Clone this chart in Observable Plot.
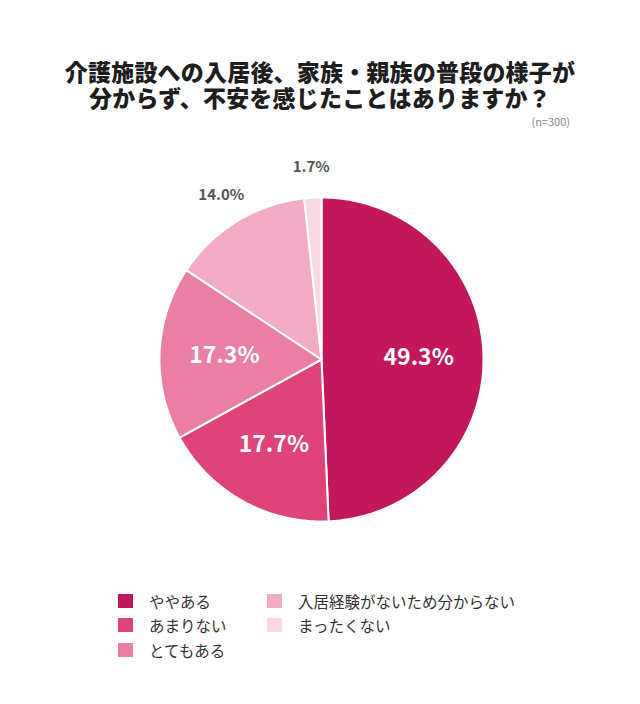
<!DOCTYPE html>
<html><head><meta charset="utf-8">
<script src="https://cdn.jsdelivr.net/npm/d3@7"></script>
<script src="https://cdn.jsdelivr.net/npm/@observablehq/plot@0.6"></script>
<style>
html,body{margin:0;padding:0;background:#fff;}
body{width:640px;height:704px;position:relative;overflow:hidden;font-family:"Noto Sans CJK JP","Noto Sans",sans-serif;color:#222;}
#title{position:absolute;left:0;width:640px;top:58px;text-align:center;font-size:23px;font-weight:900;line-height:26px;letter-spacing:0.2px;color:#1e1e1e;}
#n{position:absolute;right:70px;top:116px;font-size:11px;line-height:11px;color:#888;}
#chart{position:absolute;left:0;top:140px;}
#legend{position:absolute;left:0;top:0;width:640px;height:704px;}
.li{position:absolute;display:flex;align-items:center;font-size:15.5px;color:#333;height:20px;white-space:nowrap;}
.sw{width:15px;height:14px;margin-right:16px;flex-shrink:0;display:inline-block;}
</style></head>
<body>
<div id="title">介護施設への入居後、家族・親族の普段の様子が<br>分からず、不安を感じたことはありますか？</div>
<div id="n">(n=300)</div>
<div id="chart"></div>
<div id="legend"></div>
<script>
const categories = ["ややある","あまりない","とてもある","入居経験がないため分からない","まったくない"];
const values = [49.3, 17.7, 17.3, 14.0, 1.7];
const palette = ["#C2185B","#DE4379","#EA7EA4","#F2ABC5","#F9D8E3"];

const W = 640, H = 440, cx = 321, cy = 219, R = 162;
const pie = d3.pie().sort(null).value(d => d)(values);

const slices = pie.map((p, i) => {
  const n = Math.max(4, Math.ceil((p.endAngle - p.startAngle) / 0.01));
  const pts = [{x: 0, y: 0}];
  for (let k = 0; k <= n; k++) {
    const a = p.startAngle + (p.endAngle - p.startAngle) * k / n;
    pts.push({x: Math.sin(a), y: Math.cos(a)});
  }
  pts.push({x: 0, y: 0});
  return pts;
});

const labels = pie.map((p, i) => {
  const mid = (p.startAngle + p.endAngle) / 2;
  const inside = values[i] > 15;
  const r = inside ? 0.6 : 1.19;
  return {x: Math.sin(mid) * r, y: Math.cos(mid) * r, text: values[i].toFixed(1) + "%", inside};
});

const marks = slices.map((pts, i) =>
  Plot.line(pts, {x: "x", y: "y", fill: palette[i], stroke: "white", strokeWidth: 2, strokeLinejoin: "round"})
);
marks.push(Plot.text(labels.filter(d => d.inside), {x: "x", y: "y", text: "text", fill: "white", fontSize: 23, fontWeight: 700}));
marks.push(Plot.text(labels.filter(d => !d.inside), {x: "x", y: "y", text: "text", fill: "#555", fontSize: 15, fontWeight: 700}));

const chart = Plot.plot({
  width: W, height: H, margin: 0,
  style: {fontFamily: '"Noto Sans CJK JP","Noto Sans",sans-serif', background: "transparent"},
  x: {domain: [-cx / R, (W - cx) / R], axis: null},
  y: {domain: [-(H - cy) / R, cy / R], axis: null},
  marks
});
document.getElementById("chart").appendChild(chart);

const leg = document.getElementById("legend");
const pos = [[118,591],[118,615],[118,640],[267,591],[267,615]];
categories.forEach((c, i) => {
  const el = document.createElement("div");
  el.className = "li";
  el.style.left = pos[i][0] + "px";
  el.style.top = pos[i][1] + "px";
  el.innerHTML = `<span class="sw" style="background:${palette[i]}"></span><span>${c}</span>`;
  leg.appendChild(el);
});
</script>
</body></html>
